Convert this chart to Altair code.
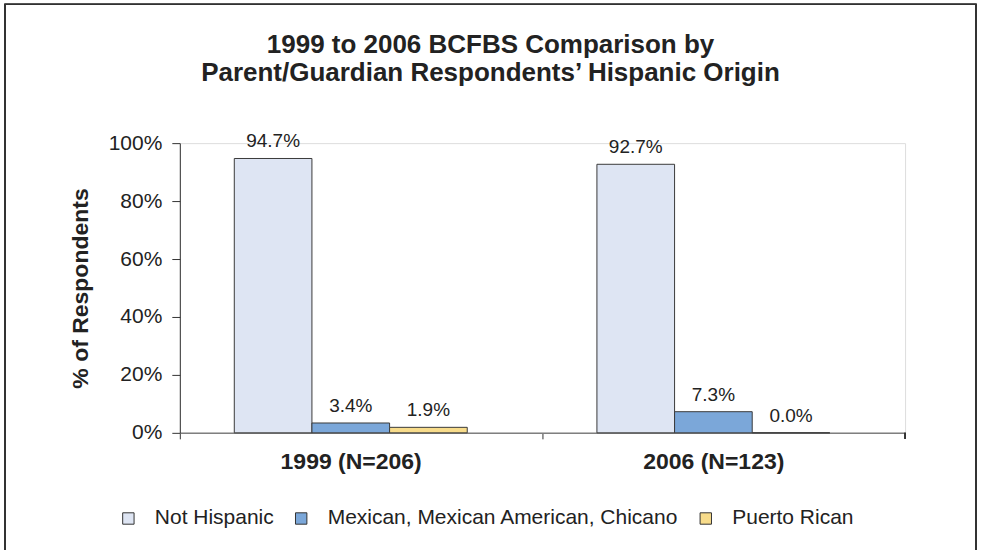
import altair as alt
import pandas as pd

years = ["1999 (N=206)", "2006 (N=123)"]
origins = ["Not Hispanic", "Mexican, Mexican American, Chicano", "Puerto Rican"]
values_1999 = [94.7, 3.4, 1.9]
values_2006 = [92.7, 7.3, 0.0]
colors = ["#DEE5F3", "#7BA7D9", "#F8DC8B"]

rows = []
for yr, vals in zip(years, [values_1999, values_2006]):
    for o, v in zip(origins, vals):
        rows.append({"year": yr, "origin": o, "pct": v / 100.0, "label": f"{v:.1f}%"})
df = pd.DataFrame(rows)

W, H = 726, 290
FONT = "Liberation Sans"

x = alt.X("year:N", sort=years, title=None,
          scale=alt.Scale(paddingInner=0, paddingOuter=0),
          axis=alt.Axis(labelFont=FONT, labelFontSize=23, labelFontWeight="bold",
                        labelColor="#222222", labelPadding=12, labelAngle=0,
                        labelOffset=-10,
                        domainColor="#7f7f7f", domainWidth=1.5,
                        tickColor="#333333", tickSize=6, bandPosition=0))
xo = alt.XOffset("origin:N", sort=origins,
                 scale=alt.Scale(paddingOuter=0.835, paddingInner=0, align=0.42))
y = alt.Y("pct:Q", title="% of Respondents",
          scale=alt.Scale(domain=[0, 1], nice=False),
          axis=alt.Axis(format=".0%", values=[0, 0.2, 0.4, 0.6, 0.8, 1.0],
                        labelFont=FONT, labelFontSize=21, labelColor="#222222",
                        labelPadding=10, tickSize=8, tickColor="#333333",
                        domainColor="#333333", grid=False,
                        titleFont=FONT, titleFontSize=23, titleFontWeight="bold",
                        titleColor="#222222", titlePadding=16))

bars = alt.Chart(df).mark_bar(stroke="#3a3a3a", strokeWidth=1).encode(
    x=x, xOffset=xo, y=y,
    color=alt.Color("origin:N", sort=origins,
                    scale=alt.Scale(domain=origins, range=colors),
                    legend=alt.Legend(title=None, orient="none", direction="horizontal",
                                      legendX=-62, legendY=365,
                                      symbolType="square", symbolSize=130,
                                      symbolStrokeColor="#333333", symbolStrokeWidth=1,
                                      labelFont=FONT, labelFontSize=21,
                                      labelColor="#222222", labelOffset=16,
                                      labelLimit=500, columnPadding=16)),
)

labels = alt.Chart(df).mark_text(baseline="alphabetic", dy=-11, font=FONT,
                                 fontSize=19, color="#222222").encode(
    x=alt.X("year:N", sort=years),
    xOffset=alt.XOffset("origin:N", sort=origins),
    y="pct:Q", text="label:N")

end_tick = alt.Chart(df).mark_rule(color="#333333").encode(
    x=alt.value(W), y=alt.value(H), y2=alt.value(H + 6))

frame = alt.Chart(df).mark_rect(fill=None, stroke="#333333", strokeWidth=1.2).encode(
    x=alt.value(-175), x2=alt.value(797), y=alt.value(-139), y2=alt.value(430))

chart = alt.layer(frame, bars, labels, end_tick).properties(
    width=W, height=H,
    title=alt.TitleParams(
        ["1999 to 2006 BCFBS Comparison by",
         "Parent/Guardian Respondents\u2019 Hispanic Origin"],
        font=FONT, fontSize=26, fontWeight="bold", color="#222222",
        anchor="middle", dx=-52, offset=-108, lineHeight=28, baseline="bottom"),
    autosize=alt.AutoSizeParams(type="none"),
    padding={"left": 180, "top": 143, "right": 79, "bottom": 117},
).configure_view(stroke=None).configure(background="white")

chart.save("out.html", embed_options={"renderer": "svg", "actions": False})
